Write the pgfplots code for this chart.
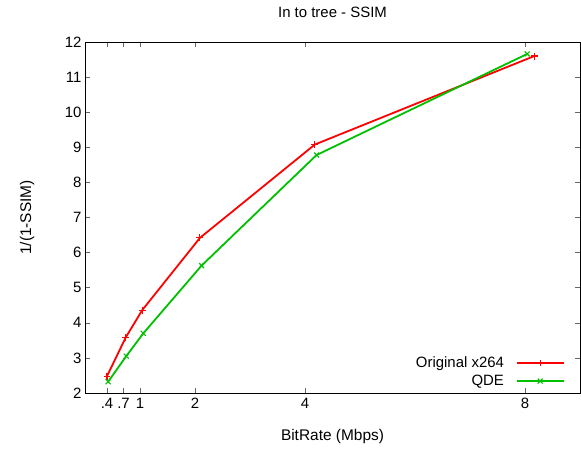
\documentclass[border=0pt]{standalone}
\usepackage{fontspec}
\setmainfont{Liberation Sans}
\usepackage{pgfplots}
\pgfplotsset{compat=1.18}
\usetikzlibrary{calc}
\definecolor{gpred}{RGB}{255,0,0}
\definecolor{gpgreen}{RGB}{0,192,0}

\begin{document}
\begin{tikzpicture}
  \begin{axis}[
    name=ax,
    scale only axis,
    width=495bp, height=351bp,
    xmin=0, xmax=9, ymin=2, ymax=12,
    xtick={0.4,0.7,1,2,4,8},
    xticklabels={.4,.7,1,2,4,8},
    ytick={2,3,...,12},
    tick align=inside, tick pos=both,
    major tick length=5bp,
    tick style={black!60, line width=0.5pt},
    axis line style={black, line width=0.8pt},
    ticklabel style={font=\fontsize{15}{17}\selectfont},
    x tick label style={yshift=-2bp},
    /pgf/number format/assume math mode=true,
    title={In to tree - SSIM},
    title style={font=\fontsize{15}{17}\selectfont,
      at={(axis description cs:0.5,1.068)}, anchor=center},
    xlabel={BitRate (Mbps)},
    ylabel={1/(1-SSIM)},
    label style={font=\fontsize{15.5}{17}\selectfont},
    xlabel style={at={(axis description cs:0.5,-0.125)}, anchor=center},
    ylabel style={at={(axis description cs:-0.117,0.5)}, anchor=center},
    legend style={at={(0.975,0.005)}, anchor=south east, draw=none,
      fill=none, font=\fontsize{15}{17}\selectfont, row sep=2bp},
    legend cell align=right,
    legend plot pos=right,
    legend image code/.code={
      \path (0cm,0cm);
      \draw[#1, mark=none] (0.35cm,0cm) -- (2.0cm,0cm);
      \draw[#1, only marks] plot coordinates {(1.175cm,0cm)};},
  ]
    \addplot[gpred, line width=1.8pt, mark=+, mark size=3.5pt,
      mark options={line width=1.1pt}] coordinates {
      (0.40,2.48) (0.74,3.58) (1.04,4.36) (2.09,6.42) (4.18,9.08) (8.17,11.60)
    };
    \addlegendentry{Original x264}
    \addplot[gpgreen, line width=1.8pt, mark=x, mark size=3.5pt,
      mark options={line width=1.1pt}] coordinates {
      (0.42,2.32) (0.75,3.05) (1.06,3.70) (2.12,5.63) (4.21,8.78) (8.04,11.66)
    };
    \addlegendentry{QDE}
  \end{axis}
  \pgfresetboundingbox
  \path ($(ax.south west)+(-85bp,-57bp)$) rectangle ($(ax.north east)+(1bp,42bp)$);
\end{tikzpicture}
\end{document}
